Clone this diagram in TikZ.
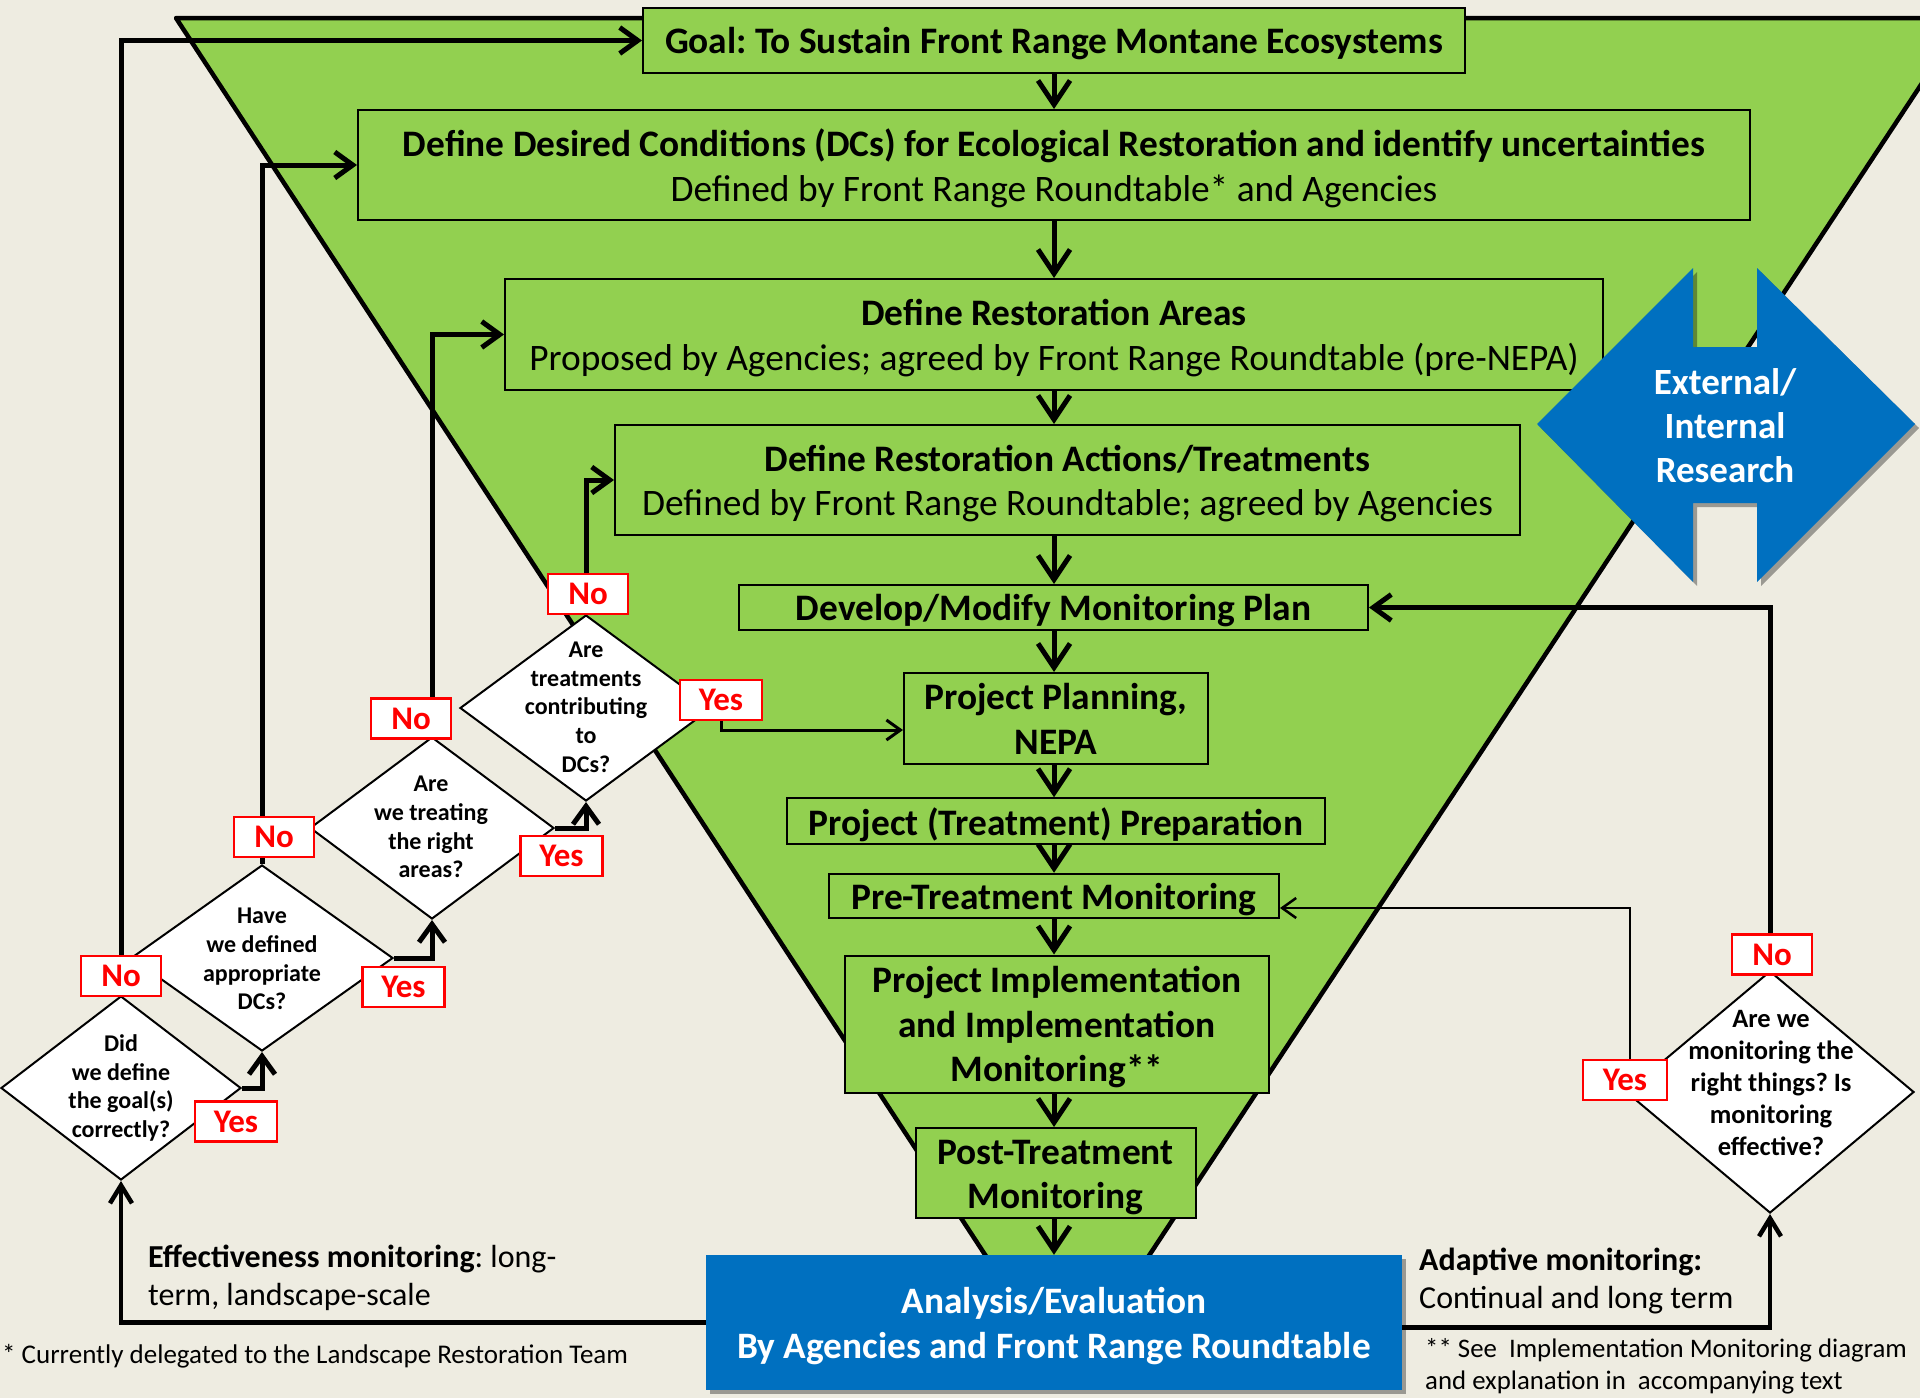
\documentclass[tikz,border=0pt]{standalone}
\usepackage{fontspec}
\setmainfont{Carlito}
\usetikzlibrary{arrows.meta,shapes.geometric,shadows}
\definecolor{bgcol}{RGB}{238,236,225}
\definecolor{grn}{RGB}{146,208,80}
\definecolor{blu}{RGB}{0,112,192}
\definecolor{redc}{RGB}{255,0,0}
\frenchspacing
\begin{document}
\begin{tikzpicture}[x=1pt,y=-1pt,
  gbox/.style={draw=black, line width=2pt, fill=grn, inner sep=0pt},
  btext/.style={align=center, inner sep=0pt, yshift=-3.5pt, font=\fontsize{37.4}{44.5}\selectfont},
  qdia/.style={draw=black, line width=2pt, fill=white, shape=diamond, inner sep=0pt},
  diatext/.style={align=center, inner sep=0pt, font=\fontsize{24}{28.7}\selectfont\bfseries},
  lbl/.style={draw=redc, line width=2.5pt, fill=white, text=redc, inner sep=0pt, minimum width=80pt, minimum height=40pt, font=\fontsize{33}{38}\selectfont\bfseries},
  downarr/.style={line width=5pt, -{Straight Barb[length=24pt,width=32pt]}},
  backarr/.style={line width=5pt, -{Straight Barb[length=18pt,width=26pt]}},
  thinarr/.style={line width=3pt, -{Straight Barb[length=14pt,width=20pt]}},
  effarr/.style={line width=4.5pt, -{Straight Barb[length=18pt,width=22pt]}},
  notetext/.style={inner sep=0pt, align=left, anchor=west},
  shadowed/.style={drop shadow={shadow xshift=4pt, shadow yshift=-4pt, opacity=0.35, fill=black}},
]
\useasboundingbox (0,0) rectangle (1920,1398);
\fill[bgcol] (0,0) rectangle (1920,1398);
\begin{scope}
\clip (0,0) rectangle (1920,1398);
\filldraw[fill=grn, line width=4.5pt, line join=round] (176,18) -- (1965,18) -- (1067,1380) -- cycle;
\end{scope}

% main boxes
\node[gbox, minimum width=822pt, minimum height=65pt, label={[btext]center:{\bfseries Goal: To Sustain Front Range Montane Ecosystems}}] (goal) at (1054,40.5) {};
\node[gbox, minimum width=1392pt, minimum height=110pt, label={[btext]center:{{\bfseries Define Desired Conditions (DCs) for Ecological Restoration and identify uncertainties}\\Defined by Front Range Roundtable* and Agencies}}] (dcs) at (1054,165) {};
\node[gbox, minimum width=1098pt, minimum height=111pt, label={[btext]center:{{\bfseries Define Restoration Areas}\\Proposed by Agencies; agreed by Front Range Roundtable (pre-NEPA)}}] (areas) at (1054,334.5) {};
\node[gbox, minimum width=905pt, minimum height=110pt, label={[btext]center:{{\bfseries Define Restoration Actions/Treatments}\\Defined by Front Range Roundtable; agreed by Agencies}}] (actions) at (1067.5,480) {};
\node[gbox, minimum width=629pt, minimum height=45pt, label={[btext]center:{\bfseries Develop/Modify Monitoring Plan}}] (plan) at (1053.5,607.5) {};
\node[gbox, minimum width=304pt, minimum height=91pt, label={[btext, yshift=3pt]center:{\bfseries Project Planning,\\\bfseries NEPA}}] (pp) at (1056,718.5) {};
\node[gbox, minimum width=538pt, minimum height=45.5pt, label={[btext]center:{\bfseries Project (Treatment) Preparation}}] (prep) at (1056,821) {};
\node[gbox, minimum width=450pt, minimum height=44.5pt, label={[btext]center:{\bfseries Pre-Treatment Monitoring}}] (pret) at (1054,896) {};
\node[gbox, minimum width=424pt, minimum height=137pt, label={[btext]center:{\bfseries Project Implementation\\\bfseries and Implementation\\\bfseries Monitoring**}}] (impl) at (1057,1024) {};
\node[gbox, minimum width=280pt, minimum height=90pt, label={[btext, yshift=-1pt]center:{\bfseries Post-Treatment\\\bfseries Monitoring}}] (post) at (1055.5,1173) {};
\node[shadowed, fill=blu, inner sep=0pt, minimum width=696pt, minimum height=135pt, label={[btext, text=white, font=\fontsize{37.3}{45}\selectfont\bfseries]center:{Analysis/Evaluation\\By Agencies and Front Range Roundtable}}] (analysis) at (1054,1322.5) {};

% research double arrow
\fill[blu, shadowed] (1537,424) -- (1693,268) -- (1693,347) -- (1757,347) -- (1757,268) -- (1915,424) -- (1757,582) -- (1757,503) -- (1693,503) -- (1693,582) -- cycle;
\node[text=white, align=center, inner sep=0pt, font=\fontsize{37}{44}\selectfont\bfseries] (research) at (1725,426) {External/\\Internal\\Research};

% vertical flow arrows
\coordinate (cx) at (1054,0);
\draw[downarr] (goal.south -| cx) -- (dcs.north -| cx);
\draw[downarr] (dcs.south -| cx) -- (areas.north -| cx);
\draw[downarr] (areas.south -| cx) -- (actions.north -| cx);
\draw[downarr] (actions.south -| cx) -- (plan.north -| cx);
\draw[downarr] (plan.south -| cx) -- (pp.north -| cx);
\draw[downarr] (pp.south -| cx) -- (prep.north -| cx);
\draw[downarr] (prep.south -| cx) -- (pret.north -| cx);
\draw[downarr] (pret.south -| cx) -- (impl.north -| cx);
\draw[downarr] (impl.south -| cx) -- (post.north -| cx);
\draw[downarr] (post.south -| cx) -- (analysis.north -| cx);

% diamonds
\node[qdia, minimum width=240pt, minimum height=184pt] (d1) at (121,1088) {};
\node[qdia, minimum width=262pt, minimum height=186pt] (d2) at (262,958) {};
\node[qdia, minimum width=244pt, minimum height=182pt] (d3) at (432,828) {};
\node[qdia, minimum width=252pt, minimum height=186pt] (d4) at (586,708) {};
\node[qdia, minimum width=288pt, minimum height=242pt] (d5) at (1770,1092) {};
\node[diatext] (t1) at (121,1088) {Did\\we define\\the goal(s)\\correctly?};
\node[diatext] (t2) at (262,959) {Have\\we defined\\appropriate\\DCs?};
\node[diatext] (t3) at (431,827) {Are\\we treating\\the right\\areas?};
\node[diatext] (t4) at (586,707) {Are\\treatments\\contributing\\to\\DCs?};
\node[diatext, font=\fontsize{26.5}{32}\selectfont\bfseries] (t5) at (1771,1083) {Are we\\monitoring the\\right things? Is\\monitoring\\effective?};

% feedback (No) lines
\draw[backarr] (d1.north) |- (goal.west);
\draw[backarr] (d2.north) |- (dcs.west);
\draw[backarr] (d3.north) |- (areas.west);
\draw[backarr] (d4.north) |- (actions.west);
\draw[backarr] (d5.north) |- (plan.east);

% Yes lines between diamonds
\draw[backarr] (d1.east) -| (d2.south);
\draw[backarr] (d2.east) -| (d3.south);
\draw[backarr] (d3.east) -| (d4.south);

% labels
\node[lbl] (no1) at (121,976) {No};
\node[lbl] (no2) at (274,837) {No};
\node[lbl] (no3) at (411,718.5) {No};
\node[lbl] (no4) at (588,594) {No};
\node[lbl] (no5) at (1772,954.5) {No};
\node[lbl, minimum width=82pt] (yes1) at (236,1121.5) {Yes};
\node[lbl, minimum width=82pt] (yes2) at (403.5,987) {Yes};
\node[lbl, minimum width=82pt] (yes3) at (561.5,856) {Yes};
\node[lbl, minimum width=82pt] (yes4) at (721,700) {Yes};
\node[lbl, minimum width=84pt] (yes5) at (1625,1080) {Yes};

\draw[thinarr] (yes4.south) |- ([yshift=-11.5pt]pp.west);
\draw[thinarr, line width=2.5pt] ([xshift=5pt]yes5.north) |- ([yshift=-12pt]pret.east);

% monitoring loops from analysis
\draw[effarr] (analysis.west) -| (d1.south);
\draw[effarr] ([yshift=-5pt]analysis.east) -| (d5.south);

% annotations
\node[notetext, font=\fontsize{32}{38}\selectfont] (eff) at (148,1277.5) {\textbf{Effectiveness monitoring}: long-\\term, landscape-scale};
\node[notetext, font=\fontsize{27}{32}\selectfont] (fn1) at (2,1356) {* Currently delegated to the Landscape Restoration Team};
\node[notetext, font=\fontsize{32}{38}\selectfont] (adapt) at (1419,1280.5) {\textbf{Adaptive monitoring:}\\Continual and long term};
\node[notetext, font=\fontsize{26.8}{32}\selectfont] (fn2) at (1425,1366) {** See\ \ Implementation Monitoring diagram\\and explanation in\ \ accompanying text};
\end{tikzpicture}
\end{document}
